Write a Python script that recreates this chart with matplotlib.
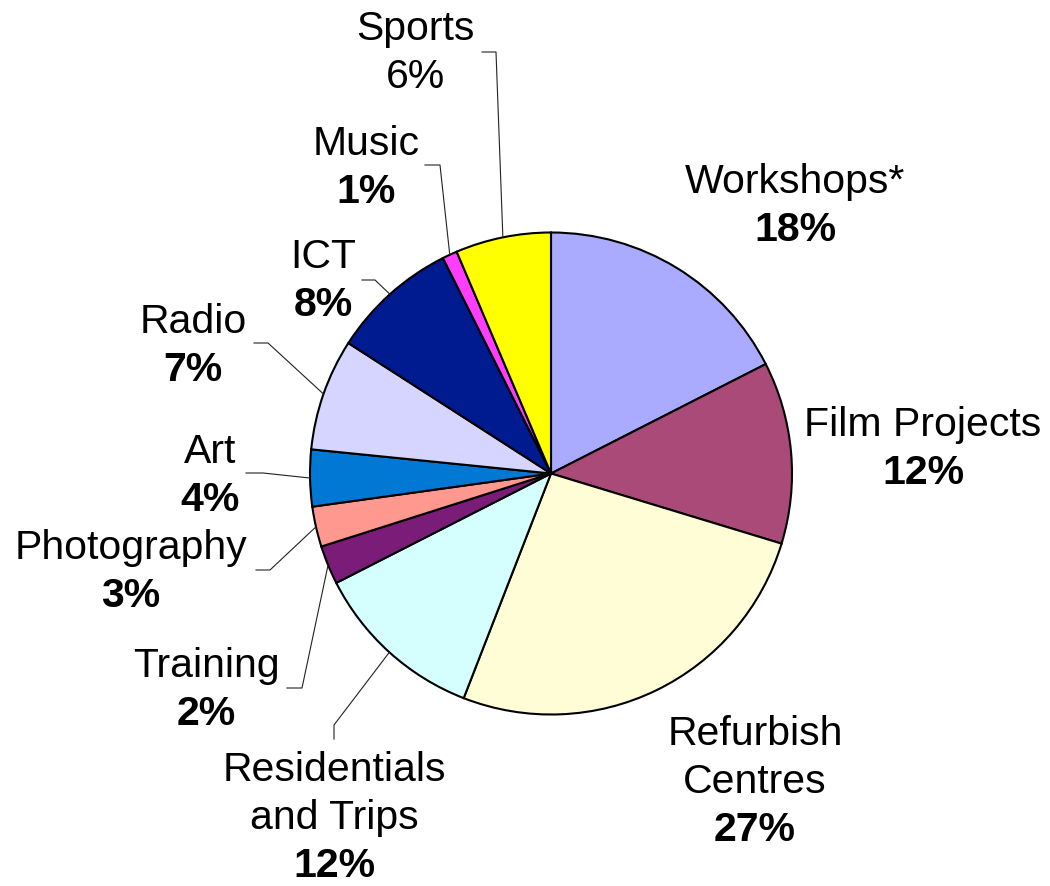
import numpy as np
import matplotlib.pyplot as plt

plt.rcParams['font.family'] = ['Liberation Sans', 'DejaVu Sans']

categorias = [['Workshops*'], ['Film Projects'], ['Refurbish', 'Centres'],
              ['Residentials', 'and Trips'], ['Training'], ['Photography'], ['Art'],
              ['Radio'], ['ICT'], ['Music'], ['Sports']]
# tamano de cada sector medido en la imagen (%)
valores = [17.5, 12.2, 26.2, 11.6, 2.6, 2.7, 3.8, 7.5, 8.5, 1.0, 6.4]
# porcentajes impresos en las etiquetas
porcentajes = ['18%', '12%', '27%', '12%', '2%', '3%', '4%', '7%', '8%', '1%', '6%']
colores = ['#AAAAFF', '#AA4A78', '#FFFDD5', '#D5FFFF', '#7B1C78', '#FF998F',
           '#0078D4', '#D5D5FF', '#001A90', '#FF3DFF', '#FFFF00']
negrita = [True, True, True, True, True, True, True, True, True, True, False]

# posicion de cada etiqueta (pixeles: centro x, linea base de la primera linea)
pos_etiqueta = [(795, 193), (923, 436), (755, 745), (334, 781), (206, 677), (131, 559),
                (210, 463), (193, 333), (323, 268), (366, 155), (415, 40)]
guia = [None, None, None,
        [(334, 739), (334, 725)],
        [(287, 688), (302, 688)],
        [(256, 570), (270, 570)],
        [(246, 473), (263, 473)],
        [(254, 343), (268, 343)],
        [(362, 280), (375, 280)],
        [(425, 165), (440, 165)],
        [(482, 52), (496, 52)]]

W, H = 1050, 886
cx, cy, r = 551, 473.5, 241
paso = 48

fig = plt.figure(figsize=(10.5, 8.86), dpi=100)
ax = fig.add_axes([0, 0, 1, 1])

ax.pie(valores, colors=colores, startangle=90, counterclock=False,
       center=(cx, H - cy), radius=r,
       wedgeprops=dict(edgecolor='black', linewidth=1.5))

ax.set_xlim(0, W)
ax.set_ylim(0, H)
ax.set_aspect('equal')
ax.axis('off')

total = float(sum(valores))
acum = 0.0
for i in range(len(valores)):
    medio = (acum + valores[i] / 2.0) / total
    acum += valores[i]
    ang = np.radians(90 - 360 * medio)
    px = cx + r * np.cos(ang)
    py = cy - r * np.sin(ang)

    lx, ly = pos_etiqueta[i]
    lineas = categorias[i]
    for j in range(len(lineas)):
        ax.text(lx, H - (ly + j * paso), lineas[j], ha='center', va='baseline',
                fontsize=29.5)
    ax.text(lx, H - (ly + len(lineas) * paso), porcentajes[i], ha='center', va='baseline',
            fontsize=29.5, fontweight='bold' if negrita[i] else 'normal')

    if guia[i] is not None:
        xs = [p[0] for p in guia[i]] + [px]
        ys = [H - p[1] for p in guia[i]] + [H - py]
        ax.plot(xs, ys, color='#222222', linewidth=0.8)

plt.savefig('out.png', dpi=100)
